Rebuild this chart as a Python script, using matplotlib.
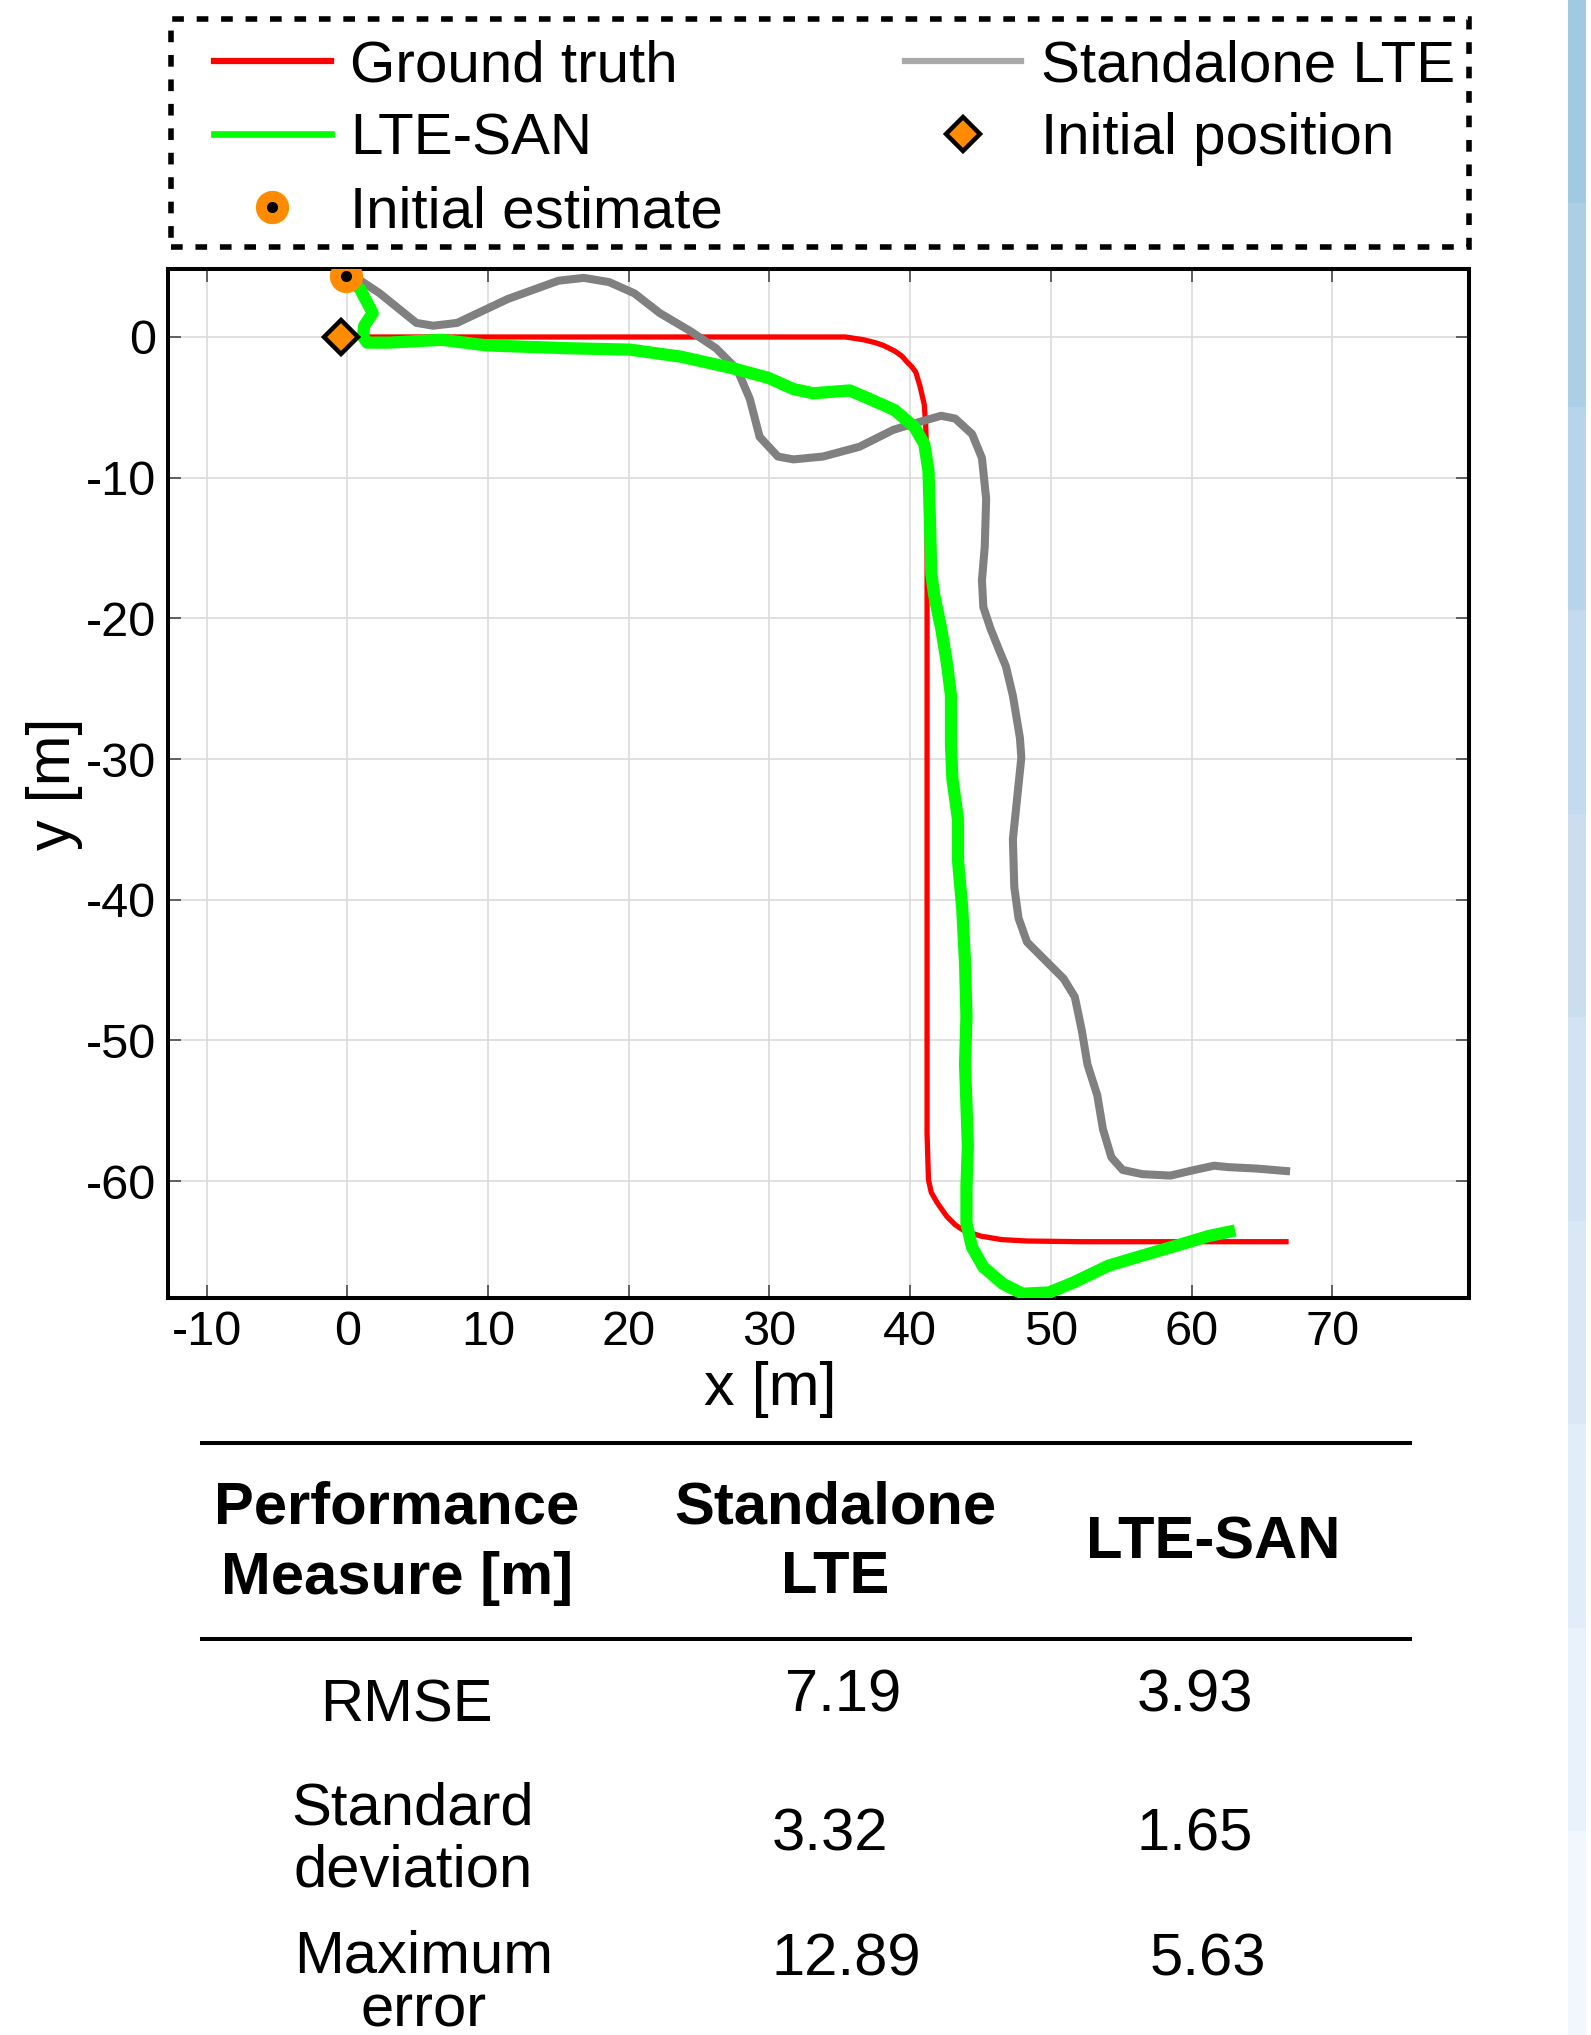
import numpy as np
import matplotlib
matplotlib.use('Agg')
import matplotlib.pyplot as plt
from matplotlib.lines import Line2D
from matplotlib.patches import Rectangle
from matplotlib.legend_handler import HandlerTuple

plt.rcParams['font.family'] = ['Liberation Sans', 'DejaVu Sans']
plt.rcParams['axes.unicode_minus'] = False

# --- trajectories [m] ---
gt_x = [0, 33.0, 35.4, 36.7, 37.5, 38.1, 38.9, 39.4, 39.8, 40.1, 40.4, 40.7, 41.0, 41.1,
        41.2, 41.2, 41.3, 41.5, 41.9, 42.6, 43.2, 43.8, 45.0, 46.5, 48.3, 52.1, 66.9]
gt_y = [0, 0, 0, -0.2, -0.4, -0.6, -1.0, -1.35, -1.8, -2.1, -2.5, -3.5, -4.8, -6.2,
        -9.1, -56.6, -59.9, -60.8, -61.5, -62.5, -63.1, -63.5, -63.9, -64.15, -64.25, -64.3, -64.3]

lte_x = [0.0, 0.5, 2.3, 4.9, 6.1, 7.8, 11.4, 15.0, 16.8, 18.6, 20.4, 22.2, 24.4, 26.2,
         27.7, 28.6, 29.3, 30.6, 31.7, 33.8, 36.4, 38.8, 40.1, 42.2, 43.2, 44.4, 45.1,
         45.4, 45.3, 45.1, 45.2, 45.7, 46.3, 46.8, 47.3, 47.8, 47.9, 47.6, 47.3, 47.4,
         47.7, 48.3, 49.7, 50.9, 51.7, 52.2, 52.6, 53.3, 53.7, 54.3, 55.1, 56.5, 58.5,
         60.2, 61.6, 62.6, 64.6, 67.0]
lte_y = [4.4, 4.3, 3.1, 1.0, 0.8, 1.0, 2.7, 4.0, 4.2, 3.9, 3.1, 1.7, 0.4, -0.8,
         -2.3, -4.4, -7.1, -8.5, -8.7, -8.5, -7.8, -6.6, -6.2, -5.6, -5.8, -6.9, -8.6,
         -11.5, -14.9, -17.3, -19.2, -20.7, -22.2, -23.4, -25.5, -28.5, -29.9, -32.8, -35.7, -39.1,
         -41.3, -43.0, -44.4, -45.6, -46.9, -49.3, -51.7, -53.9, -56.3, -58.3, -59.2, -59.5, -59.6,
         -59.2, -58.9, -59.0, -59.1, -59.3]

san_x = [0.0, 0.9, 1.8, 1.2, 1.1, 1.4, 3.0, 6.7, 9.9, 15.7, 20.1, 23.7, 27.3, 29.9,
         31.7, 33.1, 35.7, 37.1, 38.9, 40.3, 41.0, 41.3, 41.4, 41.5, 41.7, 42.2, 42.6,
         42.9, 42.9, 43.0, 43.4, 43.4, 43.7, 43.9, 44.0, 43.9, 44.0, 44.1, 44.0, 44.0,
         44.4, 45.2, 46.6, 48.0, 49.9, 51.6, 54.1, 56.8, 59.2, 61.2, 63.1]
san_y = [4.3, 3.4, 1.7, 0.8, 0.05, -0.4, -0.4, -0.2, -0.6, -0.8, -0.9, -1.4, -2.2, -2.9,
         -3.7, -4.0, -3.8, -4.4, -5.2, -6.4, -7.6, -9.5, -12.9, -16.8, -18.3, -20.7, -23.1,
         -25.5, -28.9, -31.4, -34.3, -37.2, -40.6, -44.5, -48.3, -51.7, -54.6, -57.5, -60.4, -63.0,
         -64.7, -66.1, -67.3, -68.0, -67.9, -67.2, -66.0, -65.2, -64.5, -63.9, -63.5]

init_est = (-0.1, 4.35)
init_pos = (-0.45, 0.0)

# --- performance table ---
col_headers = ['Performance\nMeasure [m]', 'Standalone\nLTE', 'LTE-SAN']
measures = ['RMSE', 'Standard\ndeviation', 'Maximum\nerror']
standalone_vals = ['7.19', '3.32', '12.89']
san_vals = ['3.93', '1.65', '5.63']

W, H = 1591, 2035
fig = plt.figure(figsize=(W / 100, H / 100), dpi=100)


def fx(px):
    return px / W


def fy(py):
    return 1 - py / H


ax = fig.add_axes([fx(168.3), fy(1297.7), fx(1469.3) - fx(168.3), fy(269.3) - fy(1297.7)])
line_kw = dict(solid_joinstyle='round', solid_capstyle='butt')
ax.plot(gt_x, gt_y, color='#ff0000', lw=3.8, zorder=3, **line_kw)
ax.plot(lte_x, lte_y, color='#808080', lw=5.8, zorder=4, **line_kw)
ax.plot(san_x, san_y, color='#00ff00', lw=8.8, zorder=5, **line_kw)
ax.plot(*init_est, 'o', color='#ff8c00', ms=24, mew=0, zorder=6)
ax.plot(*init_est, 'o', color='k', ms=7, zorder=7)
ax.plot(*init_pos, 'D', mfc='#ff8c00', mec='k', ms=17, mew=3.2, zorder=6)

ax.set_xlim(-12.73, 79.74)
ax.set_ylim(-68.28, 4.81)
ax.set_xticks(np.arange(-10, 71, 10))
ax.set_yticks(np.arange(-60, 1, 10))
ax.grid(True, color='#dcdcdc', lw=1.2)
ax.tick_params(direction='in', length=9.5, width=1.3, color='#555555',
               top=True, right=True, labelsize=35, pad=9)
for s in ax.spines.values():
    s.set_linewidth(2.9)
ax.set_xlabel('x [m]', fontsize=44)
ax.xaxis.set_label_coords(0.463, -0.062, transform=ax.transAxes)
ax.set_ylabel('y [m]', fontsize=44, labelpad=2)

# legend
h_gt = Line2D([], [], color='#ff0000', lw=4.5)
h_san = Line2D([], [], color='#00ff00', lw=4.8)
h_est = (Line2D([], [], ls='', marker='o', color='#ff8c00', ms=24, mew=0),
         Line2D([], [], ls='', marker='o', color='k', ms=7))
h_lte = Line2D([], [], color='#a9a9a9', lw=4.5)
h_pos = Line2D([], [], ls='', marker='D', mfc='#ff8c00', mec='k', ms=17, mew=3.2)
fig.legend([h_gt, h_san, h_est, h_lte, h_pos],
           ['Ground truth', 'LTE-SAN', 'Initial estimate', 'Standalone LTE', 'Initial position'],
           handler_map={tuple: HandlerTuple(ndivide=1, pad=0)},
           loc='upper left', bbox_to_anchor=(fx(214), fy(39)), ncol=2, frameon=False,
           fontsize=42, handlelength=2.0, handletextpad=0.33, columnspacing=3.12,
           labelspacing=0.33, borderpad=0, borderaxespad=0, numpoints=1)
fig.patches.append(Rectangle((fx(171), fy(247)), fx(1469) - fx(171), fy(19.5) - fy(247),
                             transform=fig.transFigure, fill=False, ec='k', lw=4,
                             ls=(0, (2.1, 2.3))))

# table rules
for y0 in (1443, 1639):
    fig.add_artist(Line2D([fx(202), fx(1410)], [fy(y0), fy(y0)], color='k', lw=2.9,
                          transform=fig.transFigure))

head_x = [397, 835, 1213]
head_ls = [1.37, 1.34, 1.0]
for txt, px, ls in zip(col_headers, head_x, head_ls):
    fig.text(fx(px), fy(1543), txt, ha='center', va='center', fontsize=43,
             fontweight='bold', linespacing=ls)

row_y = [1706, 1840, 1984]
row_ls = [1.0, 1.17, 0.98]
name_x = [406, 413, 424]
sa_x = [843, 830, 846]
san_xp = [1195, 1195, 1208]
val_dy = [-10, -5, -24]
for i in range(3):
    fig.text(fx(name_x[i]), fy(row_y[i]), measures[i], ha='center', va='center',
             fontsize=43, linespacing=row_ls[i])
    fig.text(fx(sa_x[i]), fy(row_y[i] + val_dy[i]), standalone_vals[i], ha='center',
             va='center', fontsize=43)
    fig.text(fx(san_xp[i]), fy(row_y[i] + val_dy[i]), san_vals[i], ha='center',
             va='center', fontsize=43)

# slide edge strip on the right
strip = fig.add_axes([fx(1568), 0, fx(18), 1])
strip.imshow(np.linspace(0.37, 0.03, 10).reshape(-1, 1), cmap='Blues', vmin=0, vmax=1,
             aspect='auto', interpolation='nearest')
strip.axis('off')

fig.savefig('out.png', dpi=100)
